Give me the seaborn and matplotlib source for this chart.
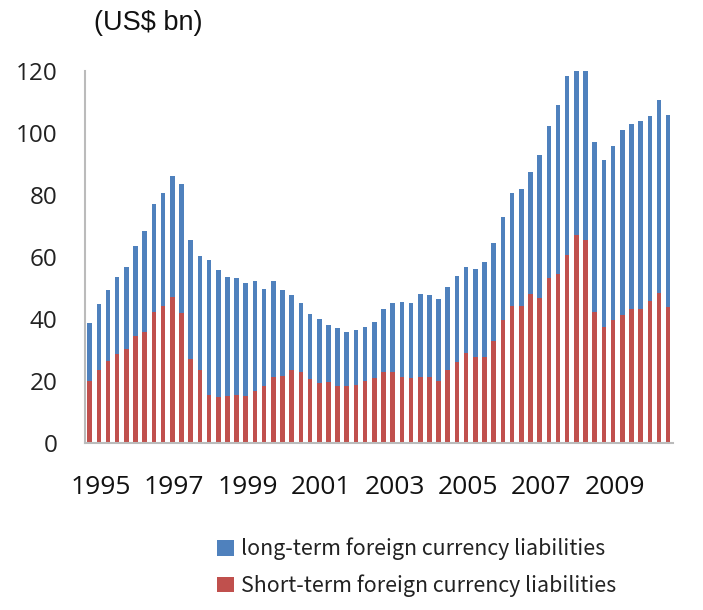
import matplotlib
matplotlib.use("Agg")
import matplotlib.pyplot as plt
from matplotlib.patches import Patch
import numpy as np
import pandas as pd
import seaborn as sns

# Quarterly external foreign-currency liabilities, 1995Q1 - 2010Q4 (US$ bn)
years = list(range(1995, 2011))
quarters = [f"{y}Q{q}" for y in years for q in range(1, 5)]

short_term = [20.1, 23.5, 26.5, 28.7, 30.2, 34.6, 35.9, 42.1, 44.0, 47.2,
              41.8, 27.1, 23.5, 15.5, 14.7, 15.2, 15.5, 15.2, 16.8, 18.2,
              21.2, 21.6, 23.5, 23.0, 20.5, 19.2, 19.5, 18.2, 18.4, 18.7,
              20.0, 20.9, 22.8, 22.7, 21.2, 20.9, 21.2, 21.2, 20.1, 23.5,
              26.2, 28.9, 27.8, 27.8, 33.0, 39.7, 44.2, 44.2, 48.0, 46.6,
              53.1, 54.4, 60.5, 66.9, 65.3, 42.2, 37.5, 39.5, 41.1, 43.1,
              43.3, 45.9, 48.3, 43.8]

long_term = [18.7, 21.3, 22.9, 24.7, 26.5, 28.9, 32.5, 35.0, 36.6, 39.0,
             41.6, 38.2, 36.6, 43.5, 40.9, 38.2, 37.6, 36.3, 35.4, 31.4,
             31.0, 27.8, 24.1, 22.1, 21.1, 20.7, 18.6, 19.0, 17.3, 17.8,
             17.5, 18.2, 20.3, 22.5, 24.2, 24.3, 26.8, 26.4, 26.4, 26.8,
             27.7, 27.8, 28.4, 30.6, 31.3, 33.0, 36.4, 37.8, 39.2, 46.1,
             49.1, 54.4, 57.8, 53.1, 54.7, 54.8, 53.8, 56.2, 59.8, 59.8,
             60.4, 59.4, 62.2, 61.8]

tick_years = ["1995", "1997", "1999", "2001", "2003", "2005", "2007", "2009"]

series_names = ["long-term foreign currency liabilities",
                "Short-term foreign currency liabilities"]

df = pd.DataFrame({"quarter": quarters,
                   "short": short_term,
                   "long": long_term})
df["total"] = df["short"] + df["long"]

blue = "#4F81BD"
red = "#C0504D"

sns.set_theme(style="white")
plt.rcParams["font.family"] = ["Noto Sans CJK KR", "DejaVu Sans"]

fig = plt.figure(figsize=(7.03, 6.10), dpi=100)
ax = fig.add_axes([0.121, 0.274, 0.836, 0.610])

# stacked bars: full height in blue, short-term portion drawn over it in red
sns.barplot(data=df, x="quarter", y="total", color=blue, width=0.5,
            saturation=1, ax=ax, linewidth=0)
sns.barplot(data=df, x="quarter", y="short", color=red, width=0.5,
            saturation=1, ax=ax, linewidth=0)

ax.set_xlim(-0.5, len(quarters) - 0.5)
ax.set_ylim(0, 120)

ytick_font = dict(family=["Open Sans", "DejaVu Sans"], size=17.5)
xtick_font = dict(family=["Open Sans", "DejaVu Sans"], size=19)
ax.set_yticks(np.arange(0, 121, 20))
ax.set_yticklabels([str(v) for v in range(0, 121, 20)], color="#222222",
                   fontdict=ytick_font)

tick_pos = [quarters.index(f"{y}Q1") + 1.2 for y in tick_years]
ax.set_xticks(tick_pos)
ax.set_xticklabels(tick_years, color="#111111", fontdict=xtick_font)
ax.tick_params(axis="x", length=0, pad=23)
ax.tick_params(axis="y", length=0, pad=20)
ax.set_xlabel("")
ax.set_ylabel("")

for side in ["top", "right"]:
    ax.spines[side].set_visible(False)
for side in ["left", "bottom"]:
    ax.spines[side].set_color("#BBBBBB")
    ax.spines[side].set_linewidth(1.5)

fig.text(0.211, 0.962, "(US$ bn)", fontsize=19.5, ha="center", va="center",
         family=["Liberation Sans", "DejaVu Sans"], color="#111111")

handles = [Patch(facecolor=blue, edgecolor="none"),
           Patch(facecolor=red, edgecolor="none")]
fig.legend(handles, series_names, loc="center left",
           bbox_to_anchor=(0.282, 0.070), frameon=False, fontsize=15.4,
           handlelength=0.75, handleheight=0.75, handletextpad=0.35,
           labelspacing=0.65, labelcolor="#222222")

fig.savefig("out.png", dpi=100, facecolor="white")
